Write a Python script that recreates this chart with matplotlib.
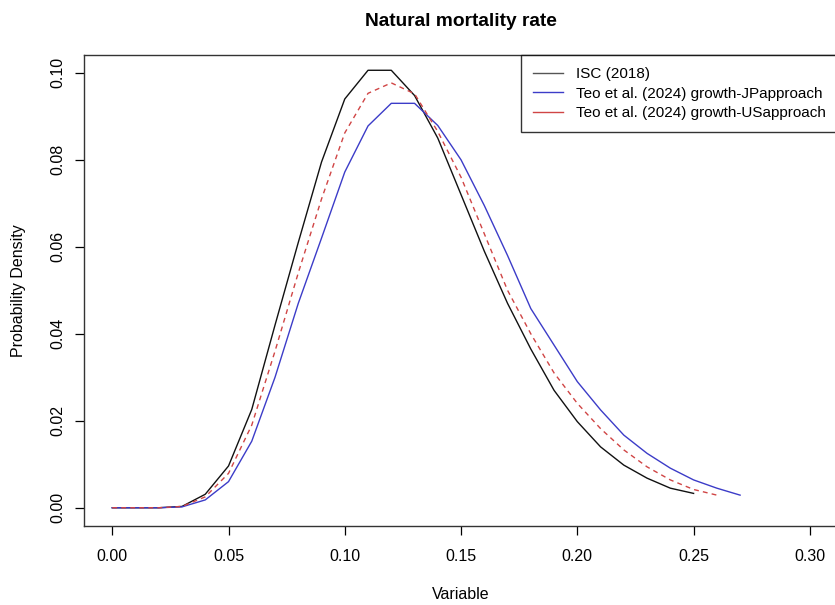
import numpy as np
import matplotlib
matplotlib.use('Agg')
import matplotlib.pyplot as plt

plt.rcParams['font.family'] = ['Liberation Sans', 'DejaVu Sans']

# grid of the variable, step 0.01
x_isc = [0.00, 0.01, 0.02, 0.03, 0.04, 0.05, 0.06, 0.07, 0.08, 0.09, 0.10, 0.11, 0.12,
         0.13, 0.14, 0.15, 0.16, 0.17, 0.18, 0.19, 0.20, 0.21, 0.22, 0.23, 0.24, 0.25]
isc_2018 = [0.0, 0.0, 0.0, 0.0003, 0.0031, 0.0096, 0.0226, 0.042, 0.061, 0.0795, 0.094,
            0.1006, 0.1006, 0.0948, 0.085, 0.072, 0.059, 0.047, 0.0365, 0.027, 0.0198,
            0.014, 0.0098, 0.0068, 0.0045, 0.0033]

x_jp = [0.00, 0.01, 0.02, 0.03, 0.04, 0.05, 0.06, 0.07, 0.08, 0.09, 0.10, 0.11, 0.12, 0.13,
        0.14, 0.15, 0.16, 0.17, 0.18, 0.19, 0.20, 0.21, 0.22, 0.23, 0.24, 0.25, 0.26, 0.27]
teo_jp = [0.0, 0.0, 0.0, 0.0002, 0.0018, 0.006, 0.0153, 0.030, 0.047, 0.062, 0.0772,
          0.0878, 0.0930, 0.0930, 0.0879, 0.080, 0.0695, 0.058, 0.0458, 0.0374, 0.029,
          0.0225, 0.0167, 0.0125, 0.0091, 0.0064, 0.0045, 0.0029]

x_us = [0.00, 0.01, 0.02, 0.03, 0.04, 0.05, 0.06, 0.07, 0.08, 0.09, 0.10, 0.11, 0.12, 0.13,
        0.14, 0.15, 0.16, 0.17, 0.18, 0.19, 0.20, 0.21, 0.22, 0.23, 0.24, 0.25, 0.26]
teo_us = [0.0, 0.0, 0.0, 0.0003, 0.0025, 0.0079, 0.019, 0.036, 0.054, 0.071, 0.0862,
          0.0953, 0.0977, 0.0952, 0.0865, 0.076, 0.063, 0.050, 0.040, 0.031, 0.024,
          0.0182, 0.0133, 0.0094, 0.0064, 0.0042, 0.0029]

labels = ['ISC (2018)', 'Teo et al. (2024) growth-JPapproach',
          'Teo et al. (2024) growth-USapproach']

fs = 11.5

fig = plt.figure(figsize=(8.35, 6.05), dpi=100)
ax = fig.add_axes([0.101, 0.131, 0.9023, 0.778])

ax.plot(x_isc, isc_2018, color='#111111', linewidth=1.0)
ax.plot(x_jp, teo_jp, color='#3c3cc8', linewidth=1.0)
ax.plot(x_us, teo_us, color='#d04545', linewidth=1.0, dashes=(3.5, 3))

ax.set_xlim(-0.012, 0.312)
ax.set_ylim(-0.00414, 0.1041)
ax.set_xticks(np.arange(0, 0.31, 0.05))
ax.set_yticks(np.arange(0, 0.101, 0.02))
ax.set_xticklabels(['%.2f' % v for v in np.arange(0, 0.31, 0.05)])
ax.set_yticklabels(['%.2f' % v for v in np.arange(0, 0.101, 0.02)], rotation=90, va='center')
ax.tick_params(axis='both', labelsize=fs, length=6.7, width=0.9, direction='out')
ax.tick_params(axis='x', pad=10)
ax.tick_params(axis='y', pad=7)
for s in ax.spines.values():
    s.set_color('#333333')
    s.set_linewidth(1.0)

ax.set_xlabel('Variable', fontsize=fs)
ax.set_ylabel('Probability Density', fontsize=fs)
ax.xaxis.set_label_coords(0.5, -0.13)
ax.yaxis.set_label_coords(-0.078, 0.5)
ax.set_title('Natural mortality rate', fontsize=13.8, fontweight='bold', pad=21)

# legend shows solid lines for all entries
h1 = plt.Line2D([], [], color='#555555', linewidth=1.0)
h2 = plt.Line2D([], [], color='#3c3cc8', linewidth=1.0)
h3 = plt.Line2D([], [], color='#d04545', linewidth=1.0)
leg = ax.legend([h1, h2, h3], labels, loc='upper right', bbox_to_anchor=(1, 1),
                borderaxespad=0, fontsize=11, frameon=True, fancybox=False,
                handlelength=2.0, handletextpad=0.8, borderpad=0.8,
                labelspacing=0.35)
leg.get_frame().set_edgecolor('black')
leg.get_frame().set_linewidth(1.0)

fig.savefig('out.png', dpi=100)
